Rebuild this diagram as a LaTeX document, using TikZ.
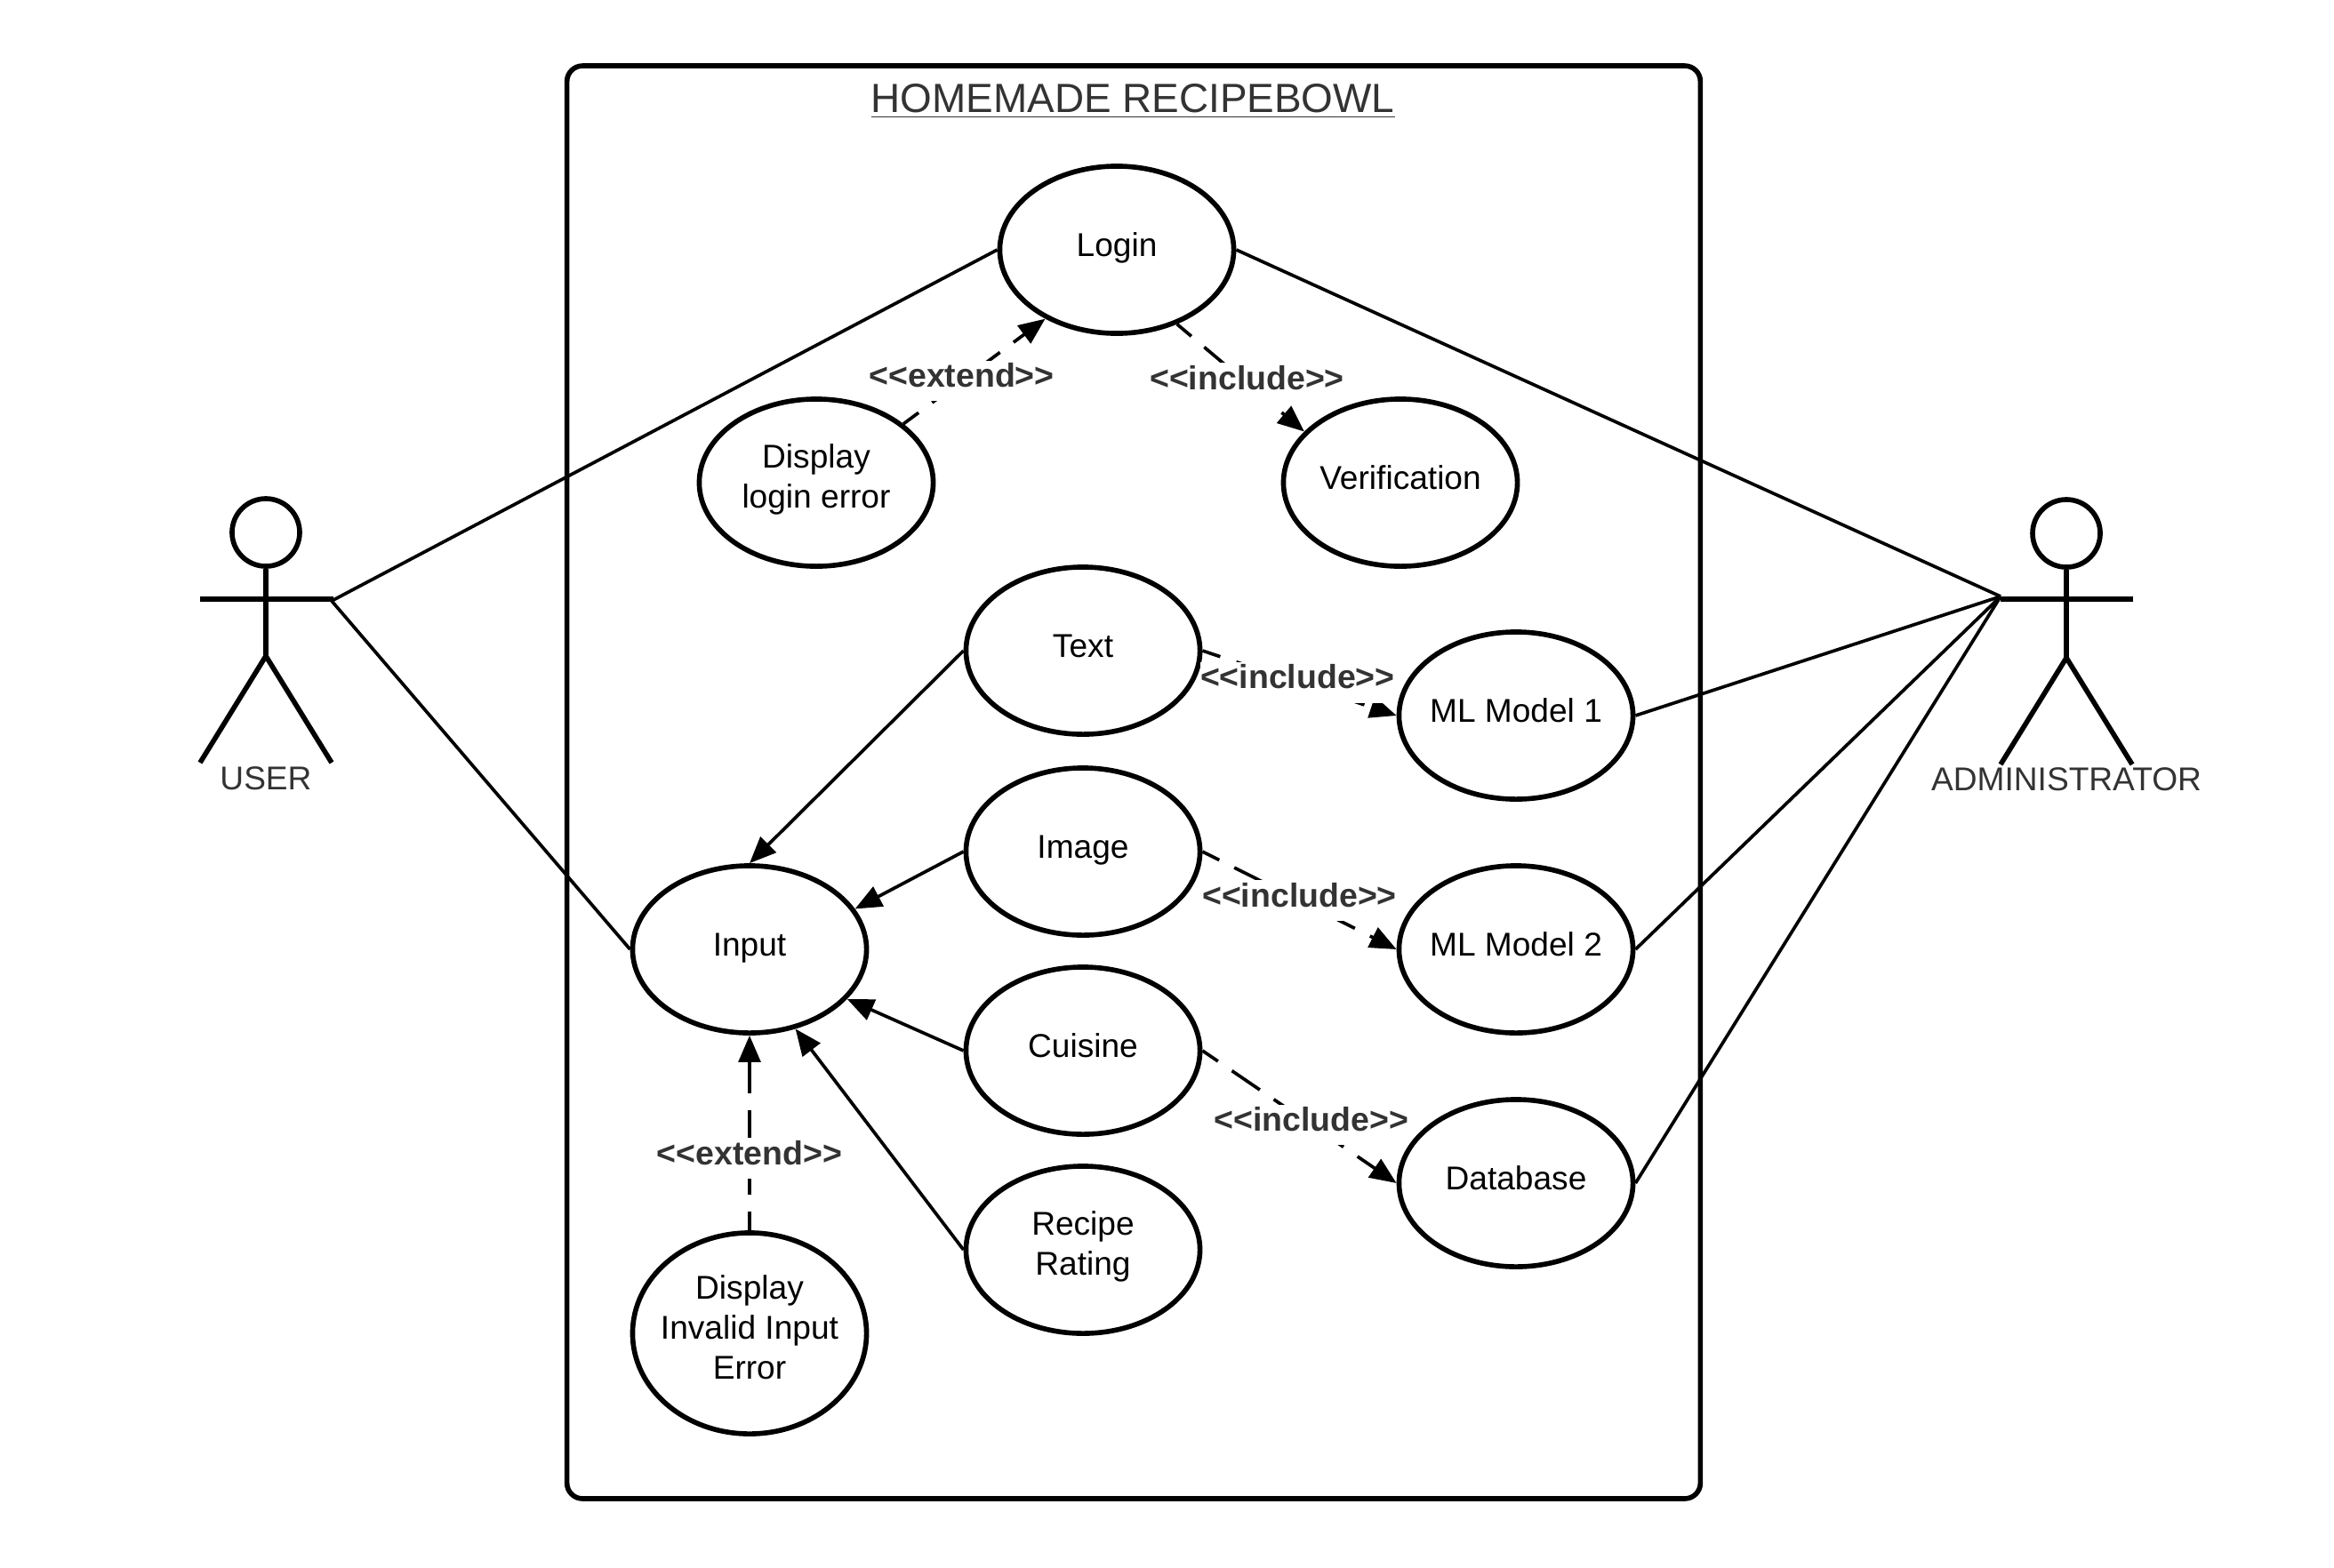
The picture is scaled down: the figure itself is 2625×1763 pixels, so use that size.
\documentclass[tikz,border=0pt]{standalone}
\usepackage{fontspec}
\setmainfont{Liberation Sans}
\usetikzlibrary{shapes.geometric, arrows.meta}

\newcommand{\casestrut}{\rule[-4pt]{0pt}{12pt}}

\tikzset{
	usecase/.style={ellipse, draw, line width=1.6pt, minimum width=2.63cm, minimum height=1.88cm, inner sep=-1cm, align=center, font=\fontsize{10.55}{12.8}\selectfont, execute at begin node=\casestrut, execute at end node=\casestrut},
	stick/.style={line width=1.6pt},
	assoc/.style={line width=1.05pt},
	arrowline/.style={line width=1.05pt, -{Triangle[length=8.5pt, width=7pt]}},
	dashline/.style={arrowline, dash pattern=on 10.8pt off 5.4pt, dash phase=4.8pt},
	stereo/.style={fill=white, inner xsep=0pt, inner ysep=.5pt, text=black!80, font=\fontsize{10.65}{12}\selectfont\bfseries, execute at begin node=\casestrut},
	actorname/.style={text=black!80, font=\fontsize{10.55}{12}\selectfont}
}

\begin{document}
\begin{tikzpicture}[x=0.01cm, y=-0.01cm]
	\useasboundingbox (0,0) rectangle (2625,1763);

	\node[draw, line width=1.6pt, rounded corners=5pt, minimum width=12.74cm, minimum height=16.11cm] (frame) at (1275,880) {};
	\node[text=black!80, font=\fontsize{13.05}{15}\selectfont] (title) at (1274,114) {\underline{HOMEMADE RECIPEBOWL}};

	\node[usecase] (login) at (1256,281) {Login};
	\node[usecase] (loginerror) at (918,543) {Display\\login error};
	\node[usecase] (verify) at (1575,543) {Verification};
	\node[usecase] (text) at (1218,732) {Text};
	\node[usecase] (image) at (1218,958) {Image};
	\node[usecase] (cuisine) at (1218,1182) {Cuisine};
	\node[usecase] (rating) at (1218,1406) {Recipe\\Rating};
	\node[usecase] (input) at (843,1068) {Input};
	\node[usecase, minimum height=2.26cm] (inputerror) at (843,1500) {Display\\Invalid Input\\Error};
	\node[usecase] (model1) at (1705,805) {ML Model 1};
	\node[usecase] (model2) at (1705,1068) {ML Model 2};
	\node[usecase] (database) at (1705,1331) {Database};

	% user
	\node[circle, draw, line width=1.6pt, minimum size=0.76cm, inner sep=0pt] (userhead) at (299,599) {};
	\coordinate (userleft) at (225,674);
	\coordinate (userright) at (375,674);
	\coordinate (userhip) at (299,738);
	\coordinate (userfootl) at (225,858);
	\coordinate (userfootr) at (373,858);
	\coordinate (userhand) at (373,676);
	\draw[stick] (userhead) -- (userhip);
	\draw[stick] (userleft) -- (userright);
	\draw[stick] (userfootl) -- (userhip) -- (userfootr);
	\node[actorname] (user) at (299,876) {USER};

	% administrator
	\node[circle, draw, line width=1.6pt, minimum size=0.76cm, inner sep=0pt] (adminhead) at (2324,600) {};
	\coordinate (adminleft) at (2250,674);
	\coordinate (adminright) at (2399,674);
	\coordinate (adminhip) at (2324,740);
	\coordinate (adminfootl) at (2250,860);
	\coordinate (adminfootr) at (2398,860);
	\coordinate (adminhand) at (2250,671);
	\draw[stick] (adminhead) -- (adminhip);
	\draw[stick] (adminleft) -- (adminright);
	\draw[stick] (adminfootl) -- (adminhip) -- (adminfootr);
	\node[actorname] (admin) at (2324,877) {ADMINISTRATOR};

	\draw[assoc] (userhand) -- (login.west);
	\draw[assoc] (userhand) -- (input.west);
	\draw[assoc] (adminhand) -- (login.east);
	\draw[assoc] (adminhand) -- (model1.east);
	\draw[assoc] (adminhand) -- (model2.east);
	\draw[assoc] (adminhand) -- (database.east);

	\draw[arrowline] (text.west) -- (input.north);
	\draw[arrowline] (image.west) -- (input.21);
	\draw[arrowline] (cuisine.west) -- (input.-27);
	\draw[arrowline] (rating.west) -- (input.-60);

	\draw[dashline] (loginerror.34) -- node[stereo, pos=.41] (ext1) {<{}<extend>{}>} (login.224);
	\draw[dashline] (login.-51) -- node[stereo, pos=.55] (inc1) {<{}<include>{}>} (verify.152);
	\draw[dashline] (text.east) -- node[stereo, pos=.49] (inc2) {<{}<include>{}>} (model1.west);
	\draw[dashline] (image.east) -- node[stereo] (inc3) {<{}<include>{}>} (model2.west);
	\draw[dashline] (cuisine.east) -- node[stereo, pos=.56] (inc4) {<{}<include>{}>} (database.west);
	\draw[dashline] (inputerror.north) -- node[stereo, pos=.37] (ext2) {<{}<extend>{}>} (input.south);
\end{tikzpicture}
\end{document}
